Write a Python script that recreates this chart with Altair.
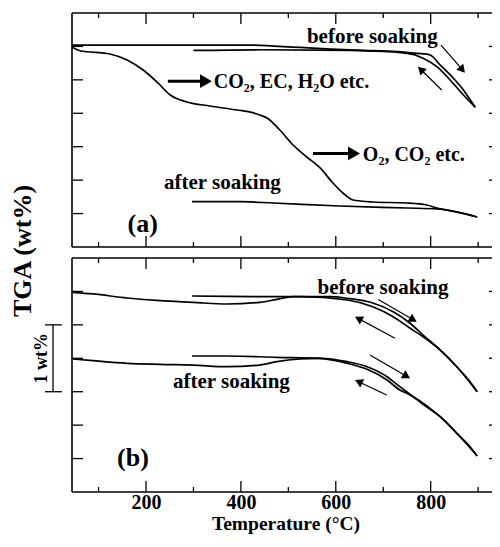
import math
import altair as alt
import pandas as pd

# ---------------- data ----------------
# Panel (a): TGA, wt%
A_BEFORE_HEAT_T = [44, 420, 470, 525, 590, 660, 730, 765, 785, 799, 820, 848, 869, 886, 894]
A_BEFORE_HEAT_V = [100.2, 100.2, 100.05, 99.85, 99.6, 99.42, 99.22, 99.0, 98.9, 98.72, 97.22, 95.23, 93.48, 91.73, 90.9]
A_BEFORE_COOL_T = [894, 869, 841, 813, 784, 763, 749, 700, 630, 440, 300]
A_BEFORE_COOL_V = [90.9, 92.74, 94.98, 96.97, 98.22, 98.82, 98.97, 99.24, 99.42, 99.5, 99.4]
A_AFTER_HEAT_T = [44, 61, 124, 160, 194, 223, 251, 286, 335, 392, 425, 440, 455, 482, 510, 539,
                  567, 594, 615, 636, 678, 750, 792, 813, 855, 898]
A_AFTER_HEAT_V = [99.92, 99.36, 98.87, 97.97, 96.47, 94.68, 92.74, 91.69, 91.09, 90.49, 90.09, 89.74,
                  89.30, 87.50, 85.26, 83.46, 81.82, 79.57, 78.08, 77.03, 76.73, 76.58, 76.28, 75.83,
                  75.24, 74.49]
A_AFTER_COOL_T = [898, 813, 750, 609, 468, 398, 297]
A_AFTER_COOL_V = [74.49, 75.69, 75.83, 76.13, 76.58, 76.78, 76.78]

# Panel (b): TGA, wt% (curves offset for clarity)
B_BEFORE_HEAT_T = [46, 88, 160, 230, 299, 371, 440, 476, 510, 588, 624, 678, 721, 756, 784, 820, 855, 883, 898]
B_BEFORE_HEAT_V = [99.987, 99.962, 99.902, 99.861, 99.837, 99.812, 99.837, 99.882, 99.921, 99.921,
                   99.897, 99.827, 99.697, 99.528, 99.348, 99.124, 98.874, 98.650, 98.500]
B_BEFORE_COOL_T = [898, 855, 820, 784, 756, 721, 678, 624, 525, 476, 371, 297]
B_BEFORE_COOL_V = [98.500, 98.874, 99.124, 99.323, 99.453, 99.622, 99.772, 99.872, 99.921, 99.921,
                   99.927, 99.932]
B_AFTER_HEAT_T = [46, 88, 160, 230, 299, 371, 440, 476, 525, 567, 624, 666, 708, 735, 763, 784, 820, 855, 883, 898]
B_AFTER_HEAT_V = [98.989, 98.964, 98.925, 98.910, 98.899, 98.874, 98.899, 98.949, 98.989, 99.000,
                  98.949, 98.874, 98.725, 98.575, 98.426, 98.31, 98.127, 97.878, 97.678, 97.539]
B_AFTER_COOL_T = [898, 820, 763, 750, 735, 708, 666, 624, 567, 476, 371, 297]
B_AFTER_COOL_V = [97.539, 98.127, 98.426, 98.476, 98.526, 98.675, 98.835, 98.925, 99.000, 99.015,
                  99.034, 99.034]

# axes
X_DOMAIN = [44, 944]
A_DOMAIN = [70, 105]
B_DOMAIN = [97, 100.5]
X_MAJOR = [200, 400, 600, 800]
X_MINOR = [100, 300, 500, 700, 900]
A_TICKS = [75, 80, 85, 90, 95, 100]
B_TICKS = [97.5, 98, 98.5, 99, 99.5, 100]
SCALE_BAR = [98.5, 99.5]

# annotations (data coordinates)
A_TEXT_CENTER = ["before soaking", "after soaking", "(a)"]
A_TEXT_CENTER_T = [677, 361, 193]
A_TEXT_CENTER_V = [100.47, 78.63, 72.25]
A_TEXT_CENTER_SIZE = [21, 21, 26]
A_TEXT_LEFT = ["CO\u2082, EC, H\u2082O etc.", "O\u2082, CO\u2082 etc."]
A_TEXT_LEFT_T = [343, 657]
A_TEXT_LEFT_V = [93.71, 82.86]
A_THICK_ARROWS = [(246, 94.8, 339, 94.8), (552, 84.0, 651, 84.0)]
A_THIN_ARROWS = [(821.7, 100.21, 872.3, 96.07), (823.2, 93.48, 773.2, 96.97)]

B_TEXT_CENTER = ["before soaking", "after soaking", "(b)"]
B_TEXT_CENTER_T = [699.5, 380, 172.6]
B_TEXT_CENTER_V = [99.962, 98.551, 97.389]
B_TEXT_CENTER_SIZE = [21, 21, 26]
B_THIN_ARROWS = [(689.6, 99.88, 770.5, 99.547), (724.8, 99.299, 640.5, 99.622),
                 (672.1, 99.049, 756.4, 98.701), (707.3, 98.451, 640.5, 98.675)]

# ---------------- styling ----------------
W = 427
H = 234
FONT = "Liberation Serif"


def curves_df(series):
    rows = []
    for name, ts, vs in series:
        for t, v in zip(ts, vs):
            rows.append({"series": name, "T": t, "v": v})
    return pd.DataFrame(rows)


def arrow_df(arrows, ydom, head_size):
    sx = W / (X_DOMAIN[1] - X_DOMAIN[0])
    sy = H / (ydom[1] - ydom[0])
    h = 0.433 * math.sqrt(head_size)
    rows = []
    for t1, v1, t2, v2 in arrows:
        dx = (t2 - t1) * sx
        dy = -(v2 - v1) * sy
        L = math.hypot(dx, dy)
        ux, uy = dx / L, dy / L
        tc = t2 - ux * h / sx
        vc = v2 + uy * h / sy
        ang = math.degrees(math.atan2(dy, dx)) % 360
        rows.append({"t1": t1, "v1": v1, "tc": tc, "vc": vc, "ang": ang})
    return pd.DataFrame(rows)


def panel(series, ydom, yticks, tc, tcT, tcV, tcS, tl, tlT, tlV, thick, thin, show_axis, extras):
    xs = alt.Scale(domain=X_DOMAIN, nice=False, zero=False)
    ys = alt.Scale(domain=ydom, nice=False, zero=False)
    if show_axis:
        xaxis = alt.Axis(values=X_MAJOR, ticks=False, domain=False, grid=False,
                         labelFont=FONT, labelFontSize=20, labelFontWeight="bold",
                         labelColor="black", labelPadding=0, labelFlush=False,
                         title="Temperature (\u00b0C)", titleFont=FONT, titleFontSize=19.5,
                         titleFontWeight="bold", titleColor="black", titlePadding=2)
    else:
        xaxis = None

    def X(field):
        return alt.X(field, scale=xs, axis=xaxis)

    def Y(field):
        return alt.Y(field, scale=ys, axis=None)

    layers = []
    layers.append(
        alt.Chart(curves_df(series)).mark_line(color="black", strokeWidth=1.7, interpolate="monotone").encode(
            x=X("T:Q"), y=Y("v:Q"), detail="series:N", order="T:Q")
    )

    one = pd.DataFrame({"k": [0]})
    fr = dict(color="black", strokeWidth=1.6)
    layers.append(alt.Chart(one).mark_rule(**fr).encode(x=alt.value(0), x2=alt.value(W), y=alt.value(0)))
    layers.append(alt.Chart(one).mark_rule(**fr).encode(x=alt.value(0), x2=alt.value(W), y=alt.value(H)))
    layers.append(alt.Chart(one).mark_rule(**fr).encode(x=alt.value(0), y=alt.value(0), y2=alt.value(H)))

    tk = dict(color="black", strokeWidth=1.3)
    for vals, y0, y1 in [(X_MAJOR, H, H - 11), (X_MINOR, H, H - 5), (X_MAJOR, 0, 11), (X_MINOR, 0, 5)]:
        layers.append(alt.Chart(pd.DataFrame({"t": vals})).mark_rule(**tk).encode(
            x=X("t:Q"), y=alt.value(y0), y2=alt.value(y1)))
    for x0, x1 in [(0, 11), (W, W - 10)]:
        layers.append(alt.Chart(pd.DataFrame({"t": yticks})).mark_rule(**tk).encode(
            y=Y("t:Q"), x=alt.value(x0), x2=alt.value(x1)))

    layers.append(alt.Chart(pd.DataFrame({"label": tc, "T": tcT, "v": tcV, "s": tcS})).mark_text(
        font=FONT, fontWeight="bold", color="black", align="center", baseline="alphabetic").encode(
        x=X("T:Q"), y=Y("v:Q"), text="label:N", size=alt.Size("s:Q", scale=None, legend=None)))
    if tl:
        layers.append(alt.Chart(pd.DataFrame({"label": tl, "T": tlT, "v": tlV})).mark_text(
            font=FONT, fontWeight="bold", color="black", align="left", baseline="alphabetic", fontSize=20).encode(
            x=X("T:Q"), y=Y("v:Q"), text="label:N"))

    for arrows, sw, hs in [(thick, 3, 190), (thin, 1.2, 85)]:
        if not arrows:
            continue
        ad = arrow_df(arrows, ydom, hs)
        layers.append(alt.Chart(ad).mark_rule(color="black", strokeWidth=sw).encode(
            x=X("t1:Q"), y=Y("v1:Q"), x2="tc:Q", y2="vc:Q"))
        layers.append(alt.Chart(ad).mark_point(shape="triangle-right", filled=True, color="black",
                                               opacity=1, size=hs, strokeWidth=0).encode(
            x=X("tc:Q"), y=Y("vc:Q"), angle=alt.Angle("ang:Q", scale=None)))

    layers.extend(extras(Y))
    return alt.layer(*layers).properties(width=W, height=H)


def extras_a(Y):
    one = pd.DataFrame({"k": [0]})
    return [alt.Chart(one).mark_text(font=FONT, fontWeight="bold", color="black", fontSize=26,
                                     angle=270, align="center", baseline="middle").encode(
        x=alt.value(-49), y=alt.value(H + 4), text=alt.value("TGA (wt%)"))]


def extras_b(Y):
    bar = pd.DataFrame({"lo": [SCALE_BAR[0]], "hi": [SCALE_BAR[1]]})
    caps = pd.DataFrame({"v": SCALE_BAR})
    mid = pd.DataFrame({"v": [sum(SCALE_BAR) / 2], "label": ["1 wt%"]})
    return [
        alt.Chart(bar).mark_rule(color="black", strokeWidth=1.3).encode(
            x=alt.value(-19), y=Y("lo:Q"), y2="hi:Q"),
        alt.Chart(caps).mark_rule(color="black", strokeWidth=1.3).encode(
            y=Y("v:Q"), x=alt.value(-27), x2=alt.value(-10)),
        alt.Chart(mid).mark_text(font=FONT, fontWeight="bold", color="black", fontSize=18,
                                 angle=270, align="center", baseline="middle").encode(
            x=alt.value(-30), y=Y("v:Q"), text="label:N"),
    ]


pa = panel(
    [("a_before_heat", A_BEFORE_HEAT_T, A_BEFORE_HEAT_V), ("a_before_cool", A_BEFORE_COOL_T, A_BEFORE_COOL_V),
     ("a_after_heat", A_AFTER_HEAT_T, A_AFTER_HEAT_V), ("a_after_cool", A_AFTER_COOL_T, A_AFTER_COOL_V)],
    A_DOMAIN, A_TICKS, A_TEXT_CENTER, A_TEXT_CENTER_T, A_TEXT_CENTER_V, A_TEXT_CENTER_SIZE,
    A_TEXT_LEFT, A_TEXT_LEFT_T, A_TEXT_LEFT_V, A_THICK_ARROWS, A_THIN_ARROWS, False, extras_a)

pb = panel(
    [("b_before_heat", B_BEFORE_HEAT_T, B_BEFORE_HEAT_V), ("b_before_cool", B_BEFORE_COOL_T, B_BEFORE_COOL_V),
     ("b_after_heat", B_AFTER_HEAT_T, B_AFTER_HEAT_V), ("b_after_cool", B_AFTER_COOL_T, B_AFTER_COOL_V)],
    B_DOMAIN, B_TICKS, B_TEXT_CENTER, B_TEXT_CENTER_T, B_TEXT_CENTER_V, B_TEXT_CENTER_SIZE,
    [], [], [], [], B_THIN_ARROWS, True, extras_b)

chart = alt.vconcat(pa, pb, spacing=11, bounds="flush").properties(
    padding={"left": 2, "top": 4, "right": -8, "bottom": 0.5}
).configure_view(stroke=None)

chart.save("out.html", embed_options={"renderer": "svg", "actions": False})
